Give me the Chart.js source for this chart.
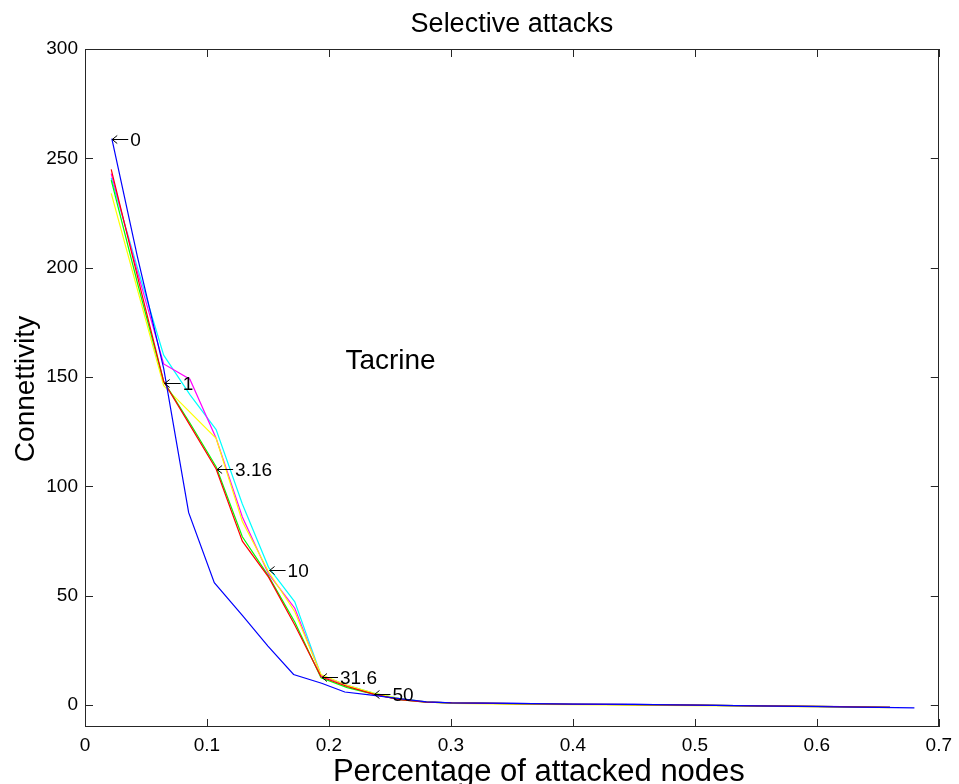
<!DOCTYPE html>
<html>
<head>
<meta charset="utf-8">
<script src="https://cdn.jsdelivr.net/npm/chart.js@4/dist/chart.umd.min.js"></script>
<style>
  html, body { margin: 0; padding: 0; background: #ffffff; }
  canvas { display: block; }
</style>
</head>
<body>
<canvas id="c" width="959" height="784"></canvas>
<script>
// ---- data ----
const xGrid   = [0.0215,0.043,0.0645,0.086,0.1075,0.129,0.1505,0.172,0.1935,0.215,0.2365,0.258,0.2795,0.301,0.35,0.40,0.45,0.50,0.55,0.60,0.66];
const blueX   = [0.022,0.043,0.0645,0.085,0.106,0.129,0.15,0.171,0.194,0.213,0.235,0.258,0.28,0.30,0.35,0.40,0.45,0.50,0.55,0.60,0.65,0.68];
const blueY   = [259,205,154,88,56,41,27,14,10,6,4.6,3,1.5,1,0.8,0.5,0.3,0,-0.3,-0.7,-1,-1.3];
const redY    = [245,196,148,128,108,75,58.5,36.6,13,8.5,5,2.5,1.4,1,0.7,0.4,0.2,0,-0.3,-0.6,-1];
const greenY  = [240,193,148,129,109,77,59,38,12.5,8,5,2.5,1.4,1,0.7,0.4,0.2,0,-0.3,-0.6,-1];
const yellowY = [234,190,146,134,122,84,61,42.7,14,9,5.5,3,1.5,0.8,0.5,0.2,0,-0.2,-0.5,-0.8,-1.1];
const magentaY= [243,198,156,149,122,86,60,44.3,13.5,9,5,2.5,1.5,1,0.8,0.5,0.3,0,-0.3,-0.6,-0.9];
const cyanY   = [241,200,160,142,126,92,63,47.2,13.7,9,5.5,3,1.5,1,0.8,0.5,0.3,0,-0.3,-0.6,-0.9];

const annX    = [0.0215,0.0645,0.1075,0.1505,0.1935,0.2365];
const annY    = [259,147.5,108,62,13,5];
const annText = ['0','1','3.16','10','31.6','50'];

const xTicks  = [0,0.1,0.2,0.3,0.4,0.5,0.6,0.7];
const xTickLabels = ['0','0.1','0.2','0.3','0.4','0.5','0.6','0.7'];
const yTicks  = [0,50,100,150,200,250,300];
const yTickLabels = ['0','50','100','150','200','250','300'];

const titleText = 'Selective attacks';
const xTitle = 'Percentage of attacked nodes';
const yTitle = 'Connettivity';
const innerText = 'Tacrine';
const innerX = 0.2135, innerY = 157;

// ---- chart ----
const FONT = '"Liberation Sans", Arial, Helvetica, sans-serif';
function pts(xs, ys) { return ys.map((y, i) => ({ x: xs[i], y: y })); }
function ds(xs, ys, color) {
  return { data: pts(xs, ys), borderColor: color, backgroundColor: color,
           borderWidth: 1.2, pointRadius: 0, tension: 0, fill: false };
}

const decor = {
  id: 'decor',
  afterDatasetsDraw(chart) {
    const ctx = chart.ctx, a = chart.chartArea;
    const xs = chart.scales.x, ys = chart.scales.y;
    ctx.save();
    // box
    ctx.strokeStyle = '#262626';
    ctx.lineWidth = 1;
    ctx.strokeRect(Math.round(a.left) + 0.5, Math.round(a.top) + 0.5,
                   Math.round(a.right - a.left) - 1, Math.round(a.bottom - a.top) - 1);
    // inward ticks
    const TL = 8;
    ctx.beginPath();
    xTicks.forEach(v => {
      const px = Math.round(xs.getPixelForValue(v)) + 0.5;
      ctx.moveTo(px, a.bottom); ctx.lineTo(px, a.bottom - TL);
      ctx.moveTo(px, a.top); ctx.lineTo(px, a.top + TL);
    });
    yTicks.forEach(v => {
      const py = Math.round(ys.getPixelForValue(v)) + 0.5;
      ctx.moveTo(a.left, py); ctx.lineTo(a.left + TL, py);
      ctx.moveTo(a.right, py); ctx.lineTo(a.right - TL, py);
    });
    ctx.stroke();

    // annotations with left arrows
    ctx.fillStyle = '#000';
    ctx.strokeStyle = '#000';
    ctx.font = '19px ' + FONT;
    ctx.textBaseline = 'middle';
    ctx.textAlign = 'left';
    annX.forEach((vx, i) => {
      const px = xs.getPixelForValue(vx);
      const py = Math.round(ys.getPixelForValue(annY[i])) + 0.5;
      ctx.beginPath();
      ctx.moveTo(px + 1, py); ctx.lineTo(px + 17, py);
      ctx.moveTo(px + 6, py - 4); ctx.lineTo(px + 1, py); ctx.lineTo(px + 6, py + 4);
      ctx.stroke();
      ctx.fillText(annText[i], px + 19, py + 1);
    });

    // inner label
    ctx.font = '28px ' + FONT;
    ctx.fillText(innerText, xs.getPixelForValue(innerX), ys.getPixelForValue(innerY));

    // title
    ctx.textAlign = 'center';
    ctx.font = '27px ' + FONT;
    ctx.fillText(titleText, (a.left + a.right) / 2, 25);
    // x title
    ctx.font = '31px ' + FONT;
    ctx.fillText(xTitle, (a.left + a.right) / 2 + 27, 772);
    // y title
    ctx.font = '28px ' + FONT;
    ctx.translate(26, 389);
    ctx.rotate(-Math.PI / 2);
    ctx.fillText(yTitle, 0, 0);
    ctx.restore();
  }
};

new Chart(document.getElementById('c'), {
  type: 'line',
  data: {
    datasets: [
      ds(blueX, blueY, '#0000ff'),
      ds(xGrid, redY, '#ff0000'),
      ds(xGrid, greenY, '#00ff00'),
      ds(xGrid, yellowY, '#ffff00'),
      ds(xGrid, magentaY, '#ff00ff'),
      ds(xGrid, cyanY, '#00ffff')
    ]
  },
  options: {
    responsive: false,
    animation: false,
    devicePixelRatio: 1,
    layout: { padding: { top: 49, right: 15, left: 0, bottom: 0 } },
    plugins: { legend: { display: false }, tooltip: { enabled: false }, title: { display: false } },
    scales: {
      x: {
        type: 'linear', min: 0, max: 0.7,
        afterBuildTicks: s => { s.ticks = xTicks.map(v => ({ value: v })); },
        afterFit: s => { s.height = 57; },
        grid: { display: false, drawTicks: false },
        border: { display: false },
        ticks: { callback: (v, i) => xTickLabels[i], color: '#000', font: { size: 19, family: FONT },
                 padding: 7, maxRotation: 0, autoSkip: false }
      },
      y: {
        type: 'linear', min: -10, max: 300,
        afterBuildTicks: s => { s.ticks = yTicks.map(v => ({ value: v })); },
        afterFit: s => { s.width = 85; },
        grid: { display: false, drawTicks: false },
        border: { display: false },
        ticks: { callback: (v, i) => yTickLabels[i], color: '#000', font: { size: 19, family: FONT },
                 padding: 7, autoSkip: false }
      }
    }
  },
  plugins: [decor]
});
</script>
</body>
</html>
